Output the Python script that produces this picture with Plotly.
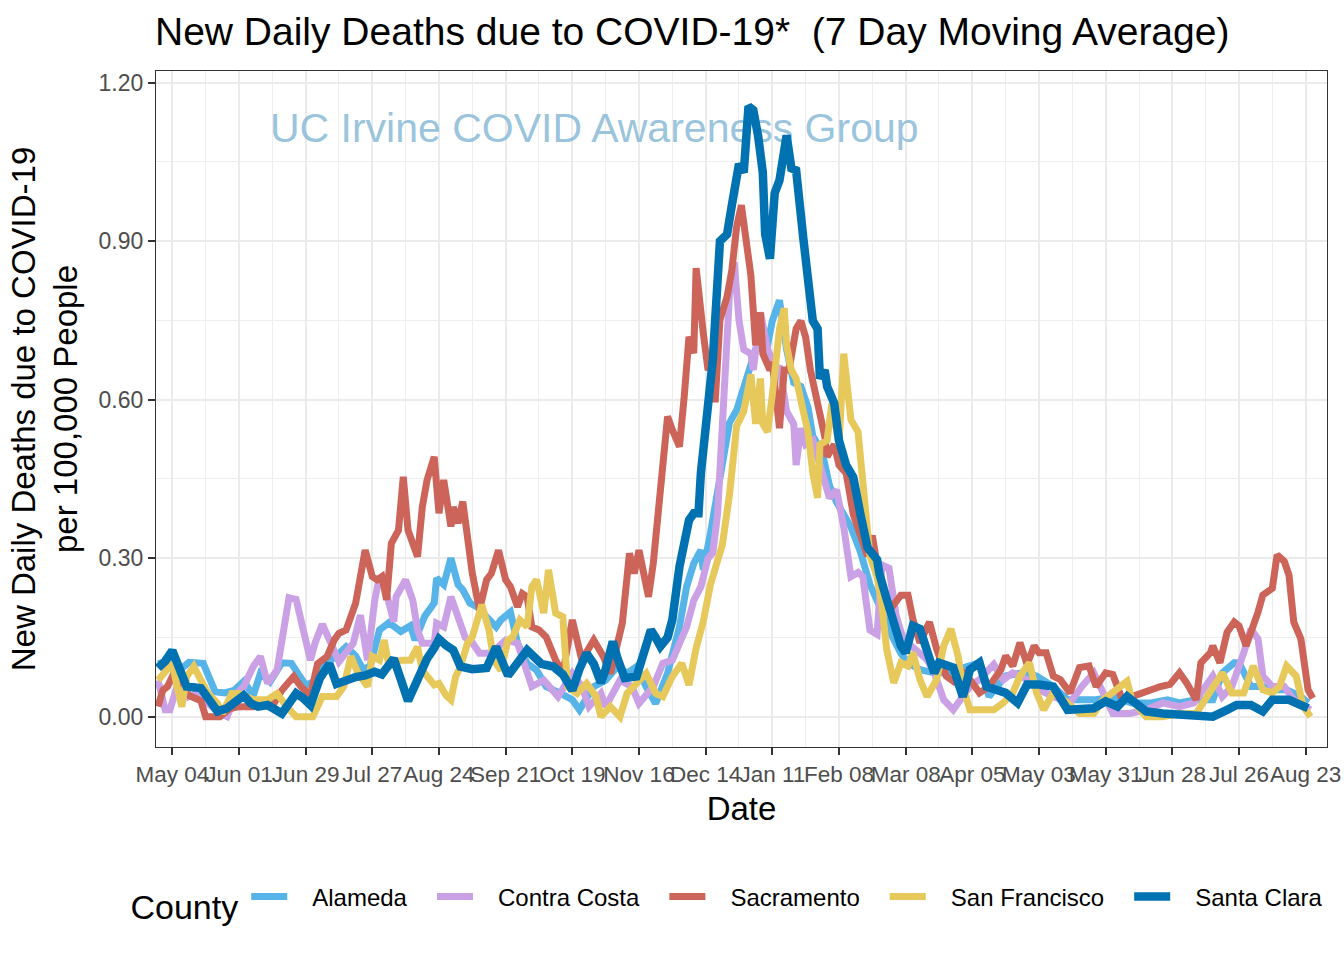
import pandas as pd
import plotly.graph_objects as go

# ---------------- data (days since 2020-05-04, 7-day avg deaths per 100k) ----------------
START = "2020-05-04"

alameda_day = [-6, -2, 3, 7, 13, 16, 18, 22, 26, 30, 34, 37, 41, 46, 50, 53, 56, 59, 64, 69, 73, 77, 80, 83,
               87, 91, 96, 100, 102, 106, 110, 111, 114, 117, 120, 122, 125, 128, 133, 136, 138, 142, 145, 149,
               153, 157, 163, 168, 171, 177, 182, 187, 191, 195, 199, 203, 208, 210, 213, 216, 219, 222, 223,
               226, 229, 231, 234, 237, 241, 245, 250, 252, 255, 258, 261, 264, 267, 269, 273, 276, 279, 282,
               285, 289, 293, 297, 301, 306, 309, 314, 320, 325, 334, 339, 343, 350, 357, 363, 370, 376, 381,
               388, 395, 403, 411, 418, 423, 430, 437, 441, 446, 448, 453, 458, 462, 468, 474, 477]
alameda_val = [0.100, 0.105, 0.088, 0.103, 0.101, 0.070, 0.047, 0.045, 0.050, 0.067, 0.040, 0.082, 0.066, 0.102,
               0.101, 0.080, 0.060, 0.065, 0.100, 0.115, 0.132, 0.115, 0.090, 0.095, 0.164, 0.178, 0.161, 0.172,
               0.145, 0.190, 0.215, 0.262, 0.250, 0.300, 0.250, 0.240, 0.215, 0.208, 0.185, 0.170, 0.183, 0.198,
               0.139, 0.101, 0.088, 0.057, 0.044, 0.032, 0.013, 0.057, 0.069, 0.095, 0.082, 0.095, 0.057, 0.025,
               0.082, 0.114, 0.170, 0.246, 0.290, 0.315, 0.278, 0.347, 0.430, 0.480, 0.556, 0.580, 0.640, 0.695,
               0.703, 0.749, 0.788, 0.695, 0.632, 0.625, 0.585, 0.531, 0.500, 0.437, 0.406, 0.383, 0.359, 0.312,
               0.250, 0.210, 0.164, 0.120, 0.102, 0.089, 0.083, 0.083, 0.096, 0.102, 0.038, 0.077, 0.083, 0.077,
               0.057, 0.032, 0.032, 0.032, 0.038, 0.026, 0.026, 0.032, 0.026, 0.032, 0.032, 0.083, 0.102, 0.102,
               0.057, 0.057, 0.051, 0.051, 0.038, 0.026]

contra_costa_day = [-6, -3, -1, 2, 5, 7, 10, 15, 20, 23, 27, 30, 34, 37, 40, 44, 46, 49, 52, 55, 58, 60, 63, 67,
                    70, 76, 79, 82, 83, 85, 87, 89, 93, 94, 98, 101, 103, 105, 110, 111, 114, 117, 120, 123, 126,
                    129, 134, 140, 145, 149, 151, 156, 162, 168, 172, 175, 180, 182, 188, 193, 196, 202, 206, 210,
                    213, 216, 219, 222, 225, 227, 229, 230, 231, 234, 236, 238, 240, 243, 244, 247, 250, 254, 255,
                    258, 261, 262, 264, 266, 269, 273, 276, 279, 282, 285, 288, 290, 293, 296, 298, 301, 304, 307,
                    310, 314, 317, 320, 324, 328, 331, 335, 339, 345, 349, 353, 359, 364, 370, 377, 382, 387, 391,
                    395, 402, 409, 416, 423, 429, 434, 437, 441, 445, 450, 453, 456, 458, 462, 467, 471, 475, 478]
contra_costa_val = [0.069, 0.013, 0.013, 0.057, 0.069, 0.038, 0.044, 0.025, 0.006, 0.000, 0.044, 0.057, 0.095,
                    0.114, 0.063, 0.088, 0.145, 0.225, 0.222, 0.160, 0.107, 0.140, 0.175, 0.135, 0.104, 0.139,
                    0.192, 0.107, 0.145, 0.220, 0.265, 0.250, 0.180, 0.227, 0.259, 0.220, 0.164, 0.139, 0.139,
                    0.177, 0.170, 0.227, 0.189, 0.150, 0.140, 0.120, 0.120, 0.145, 0.139, 0.088, 0.057, 0.069,
                    0.038, 0.082, 0.057, 0.019, 0.044, 0.019, 0.069, 0.057, 0.025, 0.057, 0.101, 0.107, 0.135,
                    0.170, 0.220, 0.246, 0.300, 0.310, 0.383, 0.467, 0.580, 0.800, 0.860, 0.750, 0.695, 0.687,
                    0.656, 0.765, 0.695, 0.656, 0.664, 0.578, 0.554, 0.476, 0.546, 0.515, 0.523, 0.461, 0.414,
                    0.429, 0.359, 0.265, 0.273, 0.265, 0.164, 0.156, 0.287, 0.281, 0.191, 0.147, 0.134, 0.121,
                    0.108, 0.083, 0.032, 0.013, 0.032, 0.057, 0.070, 0.099, 0.070, 0.083, 0.070, 0.051, 0.038,
                    0.026, 0.057, 0.083, 0.045, 0.006, 0.006, 0.013, 0.026, 0.019, 0.026, 0.057, 0.077, 0.038,
                    0.057, 0.121, 0.166, 0.147, 0.077, 0.057, 0.057, 0.032, 0.019, 0.013]

sacramento_day = [-6, -4, -2, 0, 3, 7, 12, 14, 20, 24, 28, 34, 39, 42, 46, 51, 54, 58, 61, 65, 68, 70, 73, 77,
                  81, 84, 86, 88, 90, 92, 95, 97, 99, 103, 105, 107, 110, 112, 114, 116, 117, 118, 120, 122, 124,
                  126, 129, 132, 134, 137, 140, 142, 145, 147, 149, 151, 154, 157, 161, 164, 168, 172, 177, 181,
                  184, 187, 189, 192, 194, 196, 200, 202, 205, 208, 210, 213, 215, 217, 219, 220, 223, 225, 227,
                  228, 230, 233, 235, 237, 239, 241, 243, 245, 247, 248, 251, 252, 255, 257, 259, 262, 264, 266,
                  268, 271, 274, 275, 278, 280, 283, 286, 289, 292, 294, 297, 301, 306, 309, 311, 314, 318, 321,
                  325, 328, 331, 335, 339, 343, 348, 350, 353, 356, 359, 362, 364, 367, 370, 373, 377, 381, 385,
                  388, 392, 395, 399, 403, 409, 415, 419, 423, 426, 430, 432, 436, 437, 440, 443, 446, 448, 451,
                  456, 458, 462, 464, 467, 469, 471, 474, 477, 479]
sacramento_val = [0.019, 0.050, 0.057, 0.076, 0.057, 0.040, 0.030, 0.000, 0.000, 0.015, 0.019, 0.019, 0.025,
                  0.020, 0.050, 0.076, 0.057, 0.040, 0.100, 0.114, 0.145, 0.158, 0.164, 0.215, 0.315, 0.265,
                  0.259, 0.265, 0.221, 0.328, 0.353, 0.454, 0.353, 0.303, 0.397, 0.448, 0.492, 0.385, 0.448,
                  0.385, 0.360, 0.397, 0.366, 0.407, 0.334, 0.271, 0.202, 0.259, 0.271, 0.315, 0.259, 0.246,
                  0.208, 0.233, 0.227, 0.170, 0.164, 0.151, 0.107, 0.082, 0.183, 0.107, 0.145, 0.114, 0.082,
                  0.139, 0.177, 0.309, 0.271, 0.315, 0.227, 0.290, 0.448, 0.568, 0.543, 0.511, 0.606, 0.719,
                  0.688, 0.849, 0.726, 0.656, 0.669, 0.595, 0.751, 0.795, 0.845, 0.927, 0.968, 0.906, 0.835,
                  0.703, 0.765, 0.687, 0.656, 0.671, 0.546, 0.656, 0.656, 0.734, 0.749, 0.718, 0.656, 0.593,
                  0.531, 0.492, 0.515, 0.476, 0.461, 0.383, 0.343, 0.304, 0.343, 0.260, 0.200, 0.230, 0.230,
                  0.185, 0.140, 0.179, 0.128, 0.077, 0.067, 0.089, 0.070, 0.045, 0.057, 0.089, 0.115, 0.096,
                  0.140, 0.099, 0.134, 0.121, 0.121, 0.077, 0.070, 0.045, 0.093, 0.096, 0.057, 0.083, 0.080,
                  0.032, 0.038, 0.048, 0.057, 0.061, 0.083, 0.064, 0.032, 0.102, 0.121, 0.134, 0.102, 0.160,
                  0.179, 0.172, 0.134, 0.198, 0.230, 0.243, 0.306, 0.294, 0.268, 0.179, 0.147, 0.051, 0.035]

san_francisco_day = [-6, -2, 0, 2, 4, 6, 9, 12, 15, 19, 21, 25, 28, 34, 40, 44, 48, 52, 59, 63, 69, 72, 75, 78,
                     82, 84, 87, 89, 91, 96, 100, 103, 105, 110, 112, 115, 117, 119, 121, 124, 126, 130, 133, 135,
                     138, 141, 143, 146, 149, 151, 153, 156, 158, 161, 164, 166, 170, 174, 178, 180, 184, 188,
                     191, 195, 199, 203, 206, 210, 214, 217, 220, 223, 226, 229, 231, 234, 237, 240, 243, 245,
                     247, 248, 250, 252, 254, 255, 257, 258, 260, 262, 265, 267, 269, 271, 272, 275, 277, 280,
                     282, 285, 288, 290, 293, 296, 298, 300, 303, 306, 309, 311, 314, 317, 321, 324, 327, 330,
                     332, 335, 339, 345, 349, 353, 356, 360, 363, 366, 370, 376, 381, 387, 391, 397, 401, 403,
                     409, 416, 423, 430, 434, 437, 441, 445, 450, 454, 458, 462, 465, 468, 472, 475, 478]
san_francisco_val = [0.069, 0.088, 0.101, 0.057, 0.019, 0.076, 0.095, 0.069, 0.044, 0.025, 0.006, 0.044, 0.044,
                     0.032, 0.032, 0.044, 0.019, 0.000, 0.000, 0.038, 0.038, 0.057, 0.114, 0.082, 0.057, 0.114,
                     0.107, 0.145, 0.095, 0.107, 0.107, 0.132, 0.088, 0.060, 0.063, 0.040, 0.032, 0.076, 0.095,
                     0.139, 0.151, 0.212, 0.164, 0.107, 0.088, 0.145, 0.151, 0.183, 0.170, 0.246, 0.259, 0.196,
                     0.278, 0.196, 0.189, 0.057, 0.044, 0.063, 0.038, 0.000, 0.019, 0.000, 0.044, 0.063, 0.082,
                     0.044, 0.038, 0.076, 0.101, 0.060, 0.130, 0.180, 0.250, 0.295, 0.325, 0.420, 0.550, 0.578,
                     0.648, 0.554, 0.640, 0.554, 0.539, 0.609, 0.703, 0.734, 0.773, 0.703, 0.656, 0.640, 0.578,
                     0.539, 0.461, 0.414, 0.515, 0.523, 0.593, 0.515, 0.687, 0.562, 0.539, 0.437, 0.304, 0.265,
                     0.211, 0.128, 0.064, 0.102, 0.096, 0.121, 0.070, 0.038, 0.070, 0.134, 0.166, 0.115, 0.057,
                     0.013, 0.013, 0.013, 0.026, 0.045, 0.077, 0.102, 0.045, 0.013, 0.045, 0.026, 0.006, 0.006,
                     0.032, 0.051, 0.067, 0.032, 0.000, 0.000, 0.006, 0.006, 0.032, 0.057, 0.083, 0.045, 0.045,
                     0.096, 0.051, 0.045, 0.057, 0.096, 0.077, 0.019, 0.000]

santa_clara_day = [-6, -3, 0, 3, 6, 12, 15, 19, 23, 27, 30, 33, 36, 40, 43, 46, 49, 52, 55, 58, 62, 66, 69, 73,
                   77, 81, 85, 88, 93, 96, 99, 103, 107, 110, 112, 115, 118, 121, 126, 132, 136, 141, 145, 149,
                   155, 160, 164, 168, 171, 174, 177, 180, 182, 185, 187, 190, 195, 198, 201, 203, 205, 208, 210,
                   213, 215, 217, 219, 221, 222, 225, 227, 230, 233, 235, 238, 240, 242, 244, 246, 248, 249, 251,
                   253, 255, 258, 260, 262, 265, 267, 269, 271, 272, 274, 275, 278, 280, 283, 286, 289, 292, 296,
                   297, 300, 303, 306, 308, 311, 314, 317, 320, 322, 328, 332, 335, 339, 342, 346, 350, 355, 359,
                   364, 370, 376, 381, 387, 392, 397, 401, 405, 409, 416, 423, 430, 437, 443, 447, 453, 458, 462,
                   469, 474, 477]
santa_clara_val = [0.092, 0.105, 0.125, 0.090, 0.057, 0.054, 0.035, 0.010, 0.016, 0.030, 0.040, 0.025, 0.019,
                   0.022, 0.015, 0.006, 0.025, 0.044, 0.035, 0.022, 0.073, 0.100, 0.062, 0.070, 0.075, 0.078,
                   0.085, 0.080, 0.110, 0.070, 0.030, 0.070, 0.110, 0.130, 0.147, 0.135, 0.126, 0.095, 0.090,
                   0.092, 0.132, 0.078, 0.100, 0.126, 0.100, 0.095, 0.080, 0.050, 0.090, 0.120, 0.100, 0.064,
                   0.090, 0.142, 0.110, 0.073, 0.076, 0.120, 0.164, 0.150, 0.133, 0.150, 0.183, 0.284, 0.330,
                   0.372, 0.385, 0.385, 0.461, 0.574, 0.675, 0.900, 0.913, 0.968, 1.046, 1.030, 1.155, 1.148,
                   1.100, 1.030, 0.913, 0.867, 0.991, 1.015, 1.100, 1.038, 1.034, 0.906, 0.812, 0.749, 0.734,
                   0.640, 0.656, 0.625, 0.593, 0.523, 0.476, 0.453, 0.383, 0.320, 0.297, 0.270, 0.223, 0.179,
                   0.134, 0.121, 0.172, 0.166, 0.121, 0.083, 0.102, 0.093, 0.038, 0.089, 0.102, 0.057, 0.051,
                   0.045, 0.026, 0.061, 0.061, 0.057, 0.013, 0.016, 0.016, 0.029, 0.019, 0.038, 0.026, 0.010,
                   0.006, 0.003, 0.003, 0.000, 0.013, 0.022, 0.022, 0.010, 0.032, 0.032, 0.022, 0.016]

counties = ["Alameda", "Contra Costa", "Sacramento", "San Francisco", "Santa Clara"]
colors = ["#56B4E9", "#CBA1E6", "#CC6459", "#E6C95A", "#0072B2"]

y_tickvals = [0.0, 0.3, 0.6, 0.9, 1.2]
y_ticktext = ["0.00", "0.30", "0.60", "0.90", "1.20"]

series = [
    (alameda_day, alameda_val),
    (contra_costa_day, contra_costa_val),
    (sacramento_day, sacramento_val),
    (san_francisco_day, san_francisco_val),
    (santa_clara_day, santa_clara_val),
]

start = pd.Timestamp(START)
DAY_MS = 86400000
FONT = "Liberation Sans, Arial, Helvetica, sans-serif"
NB = "\u00a0"

fig = go.Figure()

# watermark (drawn first so the lines pass over it)
fig.add_trace(go.Scatter(
    x=[start + pd.Timedelta(days=41)], y=[1.107], mode="text",
    text=["UC Irvine COVID Awareness Group"], textposition="middle right",
    textfont=dict(family=FONT, size=41, color="rgba(128,180,212,0.8)"),
    showlegend=False, hoverinfo="skip"))

for name, color, (days, vals) in zip(counties, colors, series):
    dates = start + pd.to_timedelta(days, unit="D")
    fig.add_trace(go.Scatter(
        x=dates, y=vals, mode="lines", name=NB * 3 + name + NB * 3,
        line=dict(color=color, width=8.5 if name == "Santa Clara" else 7),
    ))

fig.update_layout(
    width=1344, height=960,
    margin=dict(l=156, r=17, t=71, b=213),
    paper_bgcolor="white", plot_bgcolor="white",
    font=dict(family=FONT, color="black"),
    title=dict(text="New Daily Deaths due to COVID-19*  (7 Day Moving Average)",
               x=155 / 1344, xanchor="left", xref="container",
               y=1 - 31 / 960, yanchor="middle", yref="container",
               font=dict(size=39, color="black", family=FONT)),
    legend=dict(orientation="h", xref="container", x=738 / 1344, xanchor="center",
                yref="container", y=1 - 902 / 960, yanchor="middle",
                title=dict(text="County", font=dict(size=34, color="black")),
                font=dict(size=24, color="black"), itemwidth=36, bgcolor="rgba(0,0,0,0)"),
    showlegend=True,
)

fig.update_xaxes(
    type="date", automargin=False,
    range=[start - pd.Timedelta(hours=6.85 * 24), start + pd.Timedelta(hours=484.96 * 24)],
    tick0=START, dtick=28 * DAY_MS, tickformat="%b %d", tickangle=0,
    ticklabeloverflow="allow",
    ticks="outside", ticklen=7, tickwidth=2, tickcolor="#333333",
    tickfont=dict(size=22.5, color="#4D4D4D"),
    showgrid=True, gridcolor="#EBEBEB", gridwidth=2,
    minor=dict(dtick=14 * DAY_MS, tick0=START, showgrid=True, gridcolor="#EEEEEE", gridwidth=1),
    showline=True, linecolor="#333333", linewidth=1.3, mirror=True, zeroline=False,
    title=dict(text="Date", font=dict(size=33, color="black"), standoff=10),
)

fig.update_yaxes(
    automargin=False,
    range=[-0.0574, 1.222],
    tickvals=y_tickvals, ticktext=y_ticktext,
    ticks="outside", ticklen=7, tickwidth=2, tickcolor="#333333",
    tickfont=dict(size=23, color="#4D4D4D"),
    showgrid=True, gridcolor="#EBEBEB", gridwidth=2,
    minor=dict(tickvals=[0.15, 0.45, 0.75, 1.05], showgrid=True, gridcolor="#EEEEEE", gridwidth=1),
    showline=True, linecolor="#333333", linewidth=1.3, mirror=True, zeroline=False,
    title=dict(text="New Daily Deaths due to COVID-19<br>per 100,000 People",
               font=dict(size=33, color="black"), standoff=10),
)

fig.write_html("out.html")
